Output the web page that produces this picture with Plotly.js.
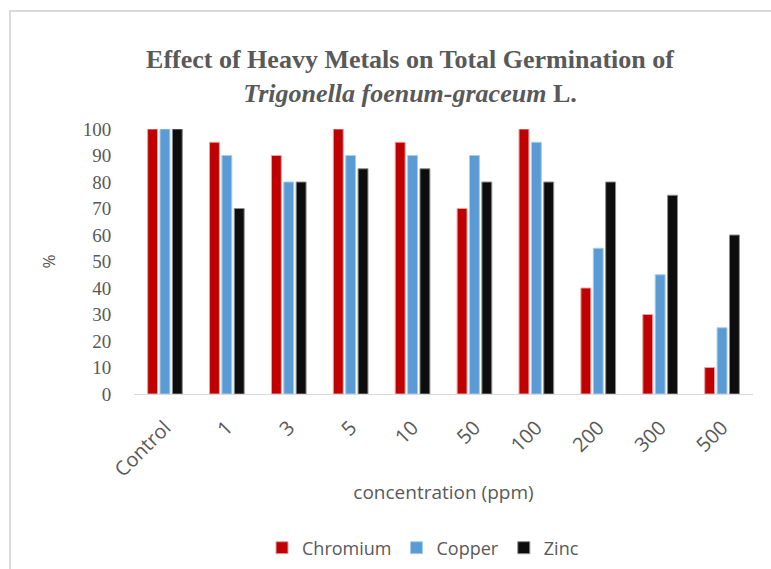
<!DOCTYPE html>
<html>
<head>
<meta charset="utf-8">
<script src="https://cdn.plot.ly/plotly-3.0.1.min.js"></script>
<style>html,body{margin:0;padding:0;background:#fff;}#chart{width:771px;height:569px;}</style>
</head>
<body>
<div id="chart"></div>
<script>
const categories = ["Control", "1", "3", "5", "10", "50", "100", "200", "300", "500"];
const chromium = [100, 95, 90, 100, 95, 70, 100, 40, 30, 10];
const copper   = [100, 90, 80, 90, 90, 90, 95, 55, 45, 25];
const zinc     = [100, 70, 80, 85, 85, 80, 80, 80, 75, 60];
const yTicks = [0, 10, 20, 30, 40, 50, 60, 70, 80, 90, 100];

const sans = "Open Sans, Lato, sans-serif";
const serif = "Liberation Serif, Times New Roman, serif";

const traces = [
  {name: "Chromium", y: chromium, color: "#C00000", edge: "#E8A0A0"},
  {name: "Copper", y: copper, color: "#5B9BD5", edge: "#A9CCEC"},
  {name: "Zinc", y: zinc, color: "#0D0D0D", edge: "#8C8C8C"}
].map(s => ({
  type: "bar",
  name: s.name,
  x: categories,
  y: s.y,
  marker: {color: s.color, line: {color: s.edge, width: 1}},
  hoverinfo: "x+y+name"
}));

const pw = 771 - 134 - 18, ph = 569 - 129 - 175;
const px = x => (x - 134) / pw, py = y => (569 - 175 - y) / ph;

const layout = {
  width: 771,
  height: 569,
  paper_bgcolor: "#ffffff",
  plot_bgcolor: "#ffffff",
  margin: {l: 134, r: 18, t: 129, b: 175},
  barmode: "group",
  bargap: 0.4,
  bargroupgap: 0.2,
  title: {
    text: "<b>Effect of Heavy Metals on Total Germination of</b><br><b><i>Trigonella foenum-graceum</i> L.</b>",
    font: {family: serif, size: 26, color: "#595959"},
    x: 410 / 771, xref: "container", xanchor: "center",
    y: 0.88, yref: "container", yanchor: "top"
  },
  xaxis: {
    type: "category",
    automargin: false,
    tickangle: -45,
    tickfont: {family: sans, size: 20, color: "#595959"},
    showline: true, linecolor: "#D9D9D9", linewidth: 1,
    ticks: "outside", ticklen: 13, tickcolor: "rgba(0,0,0,0)",
    showgrid: false, zeroline: false,
    title: {text: "concentration (ppm)", font: {family: sans, size: 19, color: "#595959"}, standoff: 4}
  },
  yaxis: {
    range: [0, 100],
    automargin: false,
    tickvals: yTicks,
    ticktext: yTicks.map(String),
    tickfont: {family: serif, size: 19, color: "#595959"},
    showgrid: false, zeroline: false, showline: false,
    ticks: "outside", ticklen: 18, tickcolor: "rgba(0,0,0,0)",
    title: {text: "%", font: {family: sans, size: 17, color: "#595959"}, standoff: 22}
  },
  showlegend: true,
  legend: {
    orientation: "h",
    x: 423 / 771, xref: "container", xanchor: "center",
    y: 1 - 548 / 569, yref: "container", yanchor: "middle",
    font: {family: sans, size: 18, color: "#595959"},
    itemwidth: 30,
    traceorder: "normal"
  },
  shapes: [{
    type: "rect", xref: "paper", yref: "paper", layer: "below",
    x0: px(10), x1: px(790), y0: py(600), y1: py(11),
    line: {color: "#D9D9D9", width: 2}, fillcolor: "rgba(0,0,0,0)"
  }]
};

Plotly.newPlot("chart", traces, layout, {displayModeBar: false, staticPlot: true});
</script>
</body>
</html>
